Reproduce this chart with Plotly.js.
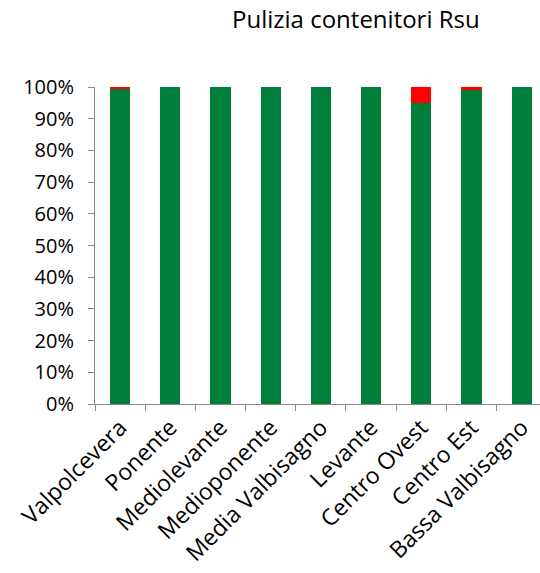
<!DOCTYPE html>
<html>
<head>
<meta charset="utf-8">
<script src="https://cdn.plot.ly/plotly-3.0.1.min.js"></script>
<style>html,body{margin:0;padding:0;background:#fff;}#chart{width:540px;height:573px;}</style>
</head>
<body>
<div id="chart"></div>
<script>
var zone = ["Valpolcevera","Ponente","Mediolevante","Medioponente","Media Valbisagno","Levante","Centro Ovest","Centro Est","Bassa Valbisagno"];
var conformi = [0.995, 1, 1, 1, 1, 1, 0.95, 0.99, 1];
var nonConformi = [0.005, 0, 0, 0, 0, 0, 0.05, 0.01, 0];

var fnt = "Open Sans, Lato, sans-serif";

var traces = [
  {x:zone, y:conformi, type:"bar", name:"Conforme", marker:{color:"#007F3A"}, width:0.4},
  {x:zone, y:nonConformi, type:"bar", name:"Non conforme", marker:{color:"#FF0000"}, width:0.4}
];

var layout = {
  width:540, height:573,
  barmode:"stack",
  showlegend:false,
  paper_bgcolor:"#fff", plot_bgcolor:"#fff",
  margin:{l:95, r:0, t:87, b:169},
  font:{family:fnt, color:"#000", size:21},
  title:{text:"Pulizia contenitori Rsu", font:{family:fnt, size:24, color:"#000"},
    x:0.659, xref:"container", xanchor:"center", y:0.965, yref:"container", yanchor:"middle"},
  xaxis:{
    range:[-0.5, 8.365], tickangle:-45, tickson:"boundaries", ticks:"outside", ticklen:6, tickcolor:"#888",
    showline:true, linecolor:"#888", linewidth:1, showgrid:false,
    tickfont:{family:fnt, size:23, color:"#000"}
  },
  yaxis:{
    range:[0,1], tickformat:".0%", dtick:0.1, ticks:"outside", ticklen:6, tickcolor:"#888",
    showline:true, linecolor:"#888", linewidth:1, showgrid:false, zeroline:false,
    ticklabelstandoff:10,
    tickfont:{family:fnt, size:20, color:"#000"}
  }
};

Plotly.newPlot("chart", traces, layout, {displayModeBar:false, staticPlot:true});
</script>
</body>
</html>
